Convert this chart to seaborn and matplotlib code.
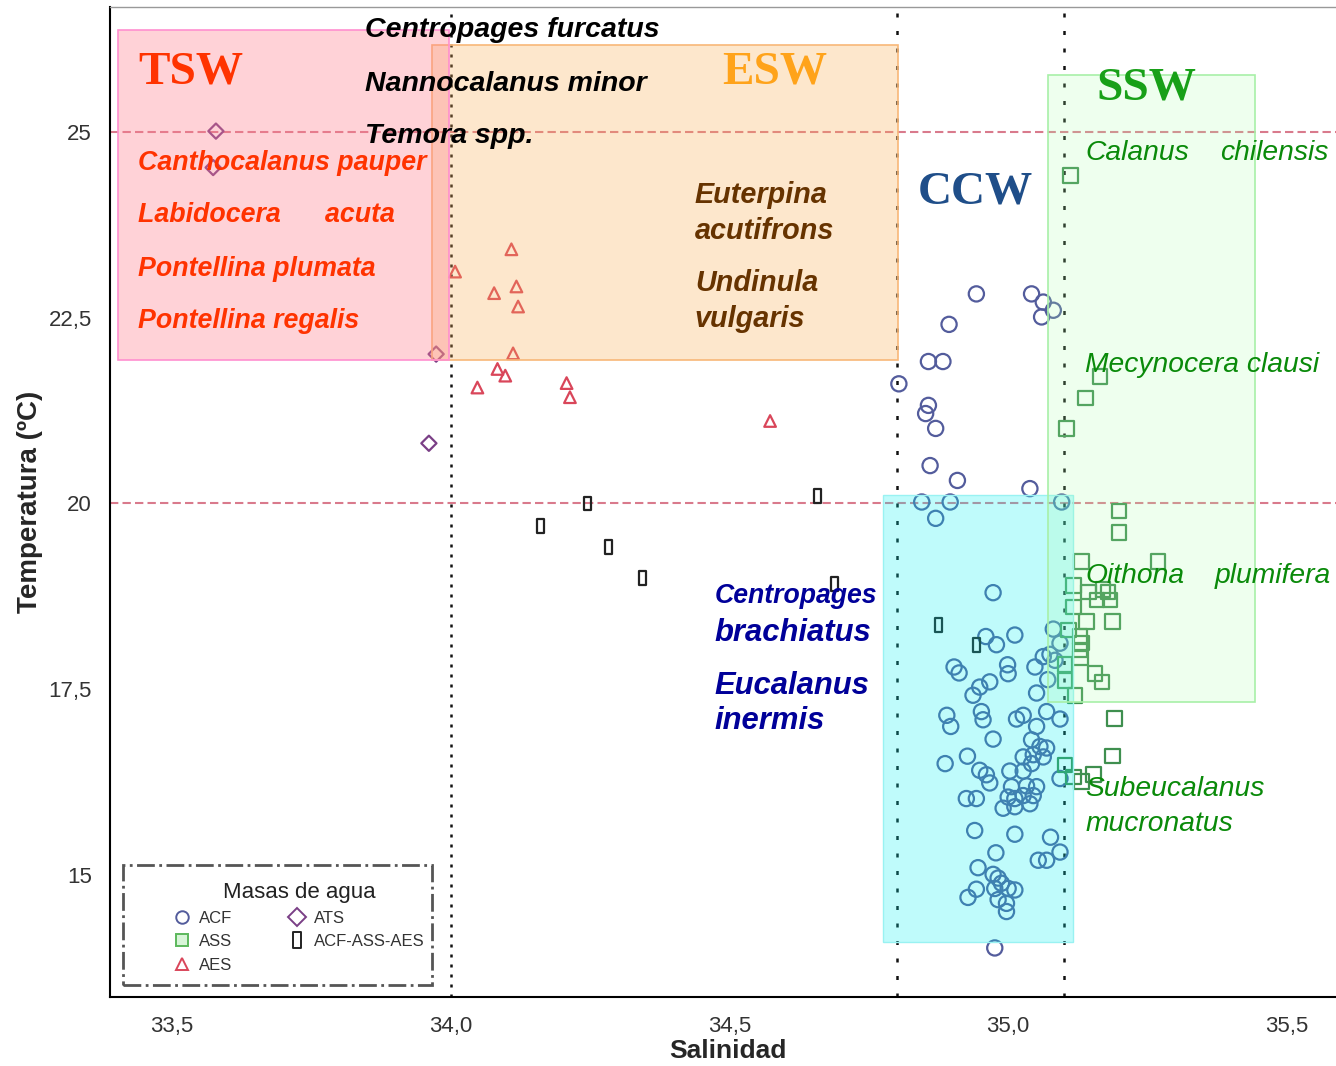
import numpy as np
import pandas as pd
import matplotlib
matplotlib.use("Agg")
import matplotlib.pyplot as plt
import seaborn as sns
from matplotlib.path import Path
from matplotlib.patches import Rectangle
from matplotlib.lines import Line2D
from matplotlib.markers import MarkerStyle

# ---------------- data ----------------
acf_sal = [34.943, 35.042, 35.063, 35.081, 35.060, 34.894, 34.857, 34.883, 34.804, 34.857,
           34.852, 34.870, 34.860, 34.909, 35.039, 34.845, 34.896, 35.096, 34.870, 34.973,
           35.081, 35.012, 34.960, 34.979, 35.093, 34.903, 34.912, 34.999, 35.000, 35.048,
           35.063, 34.967, 34.949, 34.937, 35.051, 34.890, 34.897, 34.952, 34.955, 35.015,
           35.027, 35.069, 35.093, 35.051, 34.973, 35.042, 35.057, 35.069, 35.027, 35.045,
           35.063, 35.042, 34.887, 34.927, 34.949, 34.961, 34.967, 35.003, 35.027, 35.093,
           35.006, 35.033, 35.051, 35.000, 35.012, 35.027, 35.045, 34.925, 34.943, 34.991,
           35.012, 35.039, 34.940, 35.012, 35.076, 34.978, 35.054, 35.069, 35.093, 34.946,
           34.973, 34.982, 34.988, 35.000, 35.012, 34.976, 34.943, 34.928, 34.982, 34.997,
           34.997, 34.976, 35.075, 35.071, 35.084]
acf_temp = [22.82, 22.82, 22.71, 22.60, 22.51, 22.41, 21.91, 21.91, 21.61, 21.32,
            21.21, 21.01, 20.51, 20.31, 20.20, 20.02, 20.02, 20.02, 19.80, 18.80,
            18.31, 18.23, 18.21, 18.10, 18.12, 17.80, 17.72, 17.83, 17.71, 17.80,
            17.94, 17.60, 17.53, 17.42, 17.45, 17.15, 17.00, 17.20, 17.09, 17.10,
            17.15, 17.20, 17.10, 17.00, 16.83, 16.82, 16.73, 16.71, 16.59, 16.62,
            16.59, 16.50, 16.50, 16.60, 16.41, 16.35, 16.24, 16.40, 16.40, 16.30,
            16.19, 16.20, 16.19, 16.05, 16.03, 16.07, 16.07, 16.03, 16.03, 15.90,
            15.92, 15.96, 15.60, 15.55, 15.51, 15.30, 15.20, 15.20, 15.31, 15.10,
            15.01, 14.96, 14.89, 14.82, 14.80, 14.82, 14.81, 14.70, 14.67, 14.62,
            14.51, 14.02, 17.97, 17.63, 17.89]

ass_sal = [35.112, 35.165, 35.139, 35.105, 35.199, 35.199, 35.132, 35.269, 35.117, 35.144,
           35.170, 35.179, 35.159, 35.183, 35.117, 35.141, 35.187, 35.108, 35.129, 35.132,
           35.129, 35.130, 35.102, 35.156, 35.168, 35.102, 35.120, 35.191, 35.187, 35.102,
           35.117, 35.153, 35.132]
ass_temp = [24.41, 21.71, 21.42, 21.01, 19.90, 19.61, 19.22, 19.22, 18.90, 18.81,
            18.84, 18.81, 18.70, 18.70, 18.61, 18.41, 18.41, 18.30, 18.21, 18.12,
            18.03, 17.92, 17.83, 17.71, 17.60, 17.62, 17.42, 17.11, 16.60, 16.48,
            16.32, 16.35, 16.26]

aes_sal = [34.109, 34.008, 34.078, 34.118, 34.121, 34.112, 34.084, 34.098, 34.048, 34.208,
           34.214, 34.573]
aes_temp = [23.42, 23.12, 22.83, 22.92, 22.65, 22.02, 21.81, 21.72, 21.56, 21.62,
            21.43, 21.11]

ats_sal = [33.579, 33.574, 33.974, 33.961]
ats_temp = [25.01, 24.52, 22.01, 20.81]

mix_sal = [34.246, 34.161, 34.284, 34.344, 34.658, 34.688, 34.875, 34.943]
mix_temp = [20.00, 19.70, 19.41, 19.00, 20.10, 18.92, 18.36, 18.10]

groups = ["ACF", "ASS", "AES", "ATS", "ACF-ASS-AES"]
x_ticks = [33.5, 34.0, 34.5, 35.0, 35.5]
x_tick_labels = ["33,5", "34,0", "34,5", "35,0", "35,5"]
y_ticks = [15, 17.5, 20, 22.5, 25]
y_tick_labels = ["15", "17,5", "20", "22,5", "25"]

df = pd.concat([
    pd.DataFrame({"Salinidad": acf_sal, "Temperatura": acf_temp, "Masa": "ACF"}),
    pd.DataFrame({"Salinidad": ass_sal, "Temperatura": ass_temp, "Masa": "ASS"}),
    pd.DataFrame({"Salinidad": aes_sal, "Temperatura": aes_temp, "Masa": "AES"}),
    pd.DataFrame({"Salinidad": ats_sal, "Temperatura": ats_temp, "Masa": "ATS"}),
    pd.DataFrame({"Salinidad": mix_sal, "Temperatura": mix_temp, "Masa": "ACF-ASS-AES"}),
], ignore_index=True)

# ---------------- style ----------------
sns.set_style("white")
plt.rcParams["font.family"] = ["Liberation Sans", "DejaVu Sans"]

bar_marker = MarkerStyle(Path([(-0.25, -0.5), (0.25, -0.5), (0.25, 0.5), (-0.25, 0.5), (-0.25, -0.5)],
                              [Path.MOVETO, Path.LINETO, Path.LINETO, Path.LINETO, Path.CLOSEPOLY]))
styles = {
    "ACF": dict(marker="o", s=120, color="#535c9c"),
    "ASS": dict(marker="s", s=110, color="#3f8f4f"),
    "AES": dict(marker="^", s=70, color="#d9465a"),
    "ATS": dict(marker="D", s=60, color="#7a3f86"),
    "ACF-ASS-AES": dict(marker=bar_marker, s=100, color="#222222"),
}

fig = plt.figure(figsize=(13.36, 10.66), dpi=100)
ax = fig.add_axes([110 / 1336, 69 / 1066, 1236 / 1336, 990 / 1066])

for g in groups:
    st = styles[g]
    sns.scatterplot(data=df[df["Masa"] == g], x="Salinidad", y="Temperatura",
                    marker=st["marker"], s=st["s"], facecolors="none",
                    edgecolor=st["color"], linewidth=1.6, ax=ax, zorder=3, legend=False)

ax.set_xlim(33.389, 35.606)
ax.set_ylim(13.36, 26.68)

# reference lines
for yv in (25, 20):
    ax.axhline(yv, color="#d97a8c", lw=1.5, ls=(0, (4, 2)), zorder=2)
ax.axvline(34.0, color="#111111", lw=1.8, ls=(0, (1.2, 2.8)), zorder=2)
for xv in (34.8, 35.1):
    ax.axvline(xv, color="#111111", lw=1.8, ls=(0, (1.6, 5.4)), zorder=2)

# water mass boxes
ax.add_patch(Rectangle((34.775, 14.10), 0.341, 6.01, facecolor=(0.0, 0.94, 0.94, 0.25),
                       edgecolor=(0.6, 0.95, 0.95, 1), lw=1, zorder=4))
ax.add_patch(Rectangle((35.071, 17.33), 0.372, 8.44, facecolor=(0.67, 1.0, 0.67, 0.2),
                       edgecolor="#a8f0a8", lw=1.2, zorder=4))
ax.add_patch(Rectangle((33.966, 21.93), 0.836, 4.24, facecolor=(0.98, 0.69, 0.35, 0.3),
                       edgecolor="#f8b878", lw=1.2, zorder=4))
ax.add_patch(Rectangle((33.403, 21.93), 0.594, 4.44, facecolor=(1.0, 0.5, 0.56, 0.35),
                       edgecolor="#ff8fcf", lw=1.2, zorder=4))

# big water-mass labels
big = dict(family="Liberation Serif", fontweight="bold", fontsize=34, va="center", ha="left", zorder=6)
ax.text(33.439, 25.80, "TSW", color="#ff3300", **big)
ax.text(34.487, 25.80, "ESW", color="#ffa31a", **big)
ax.text(34.838, 24.19, "CCW", color="#1f4e89", **big)
ax.text(35.159, 25.59, "SSW", color="#18a018", **big)

# species labels
bi = dict(fontweight="bold", fontstyle="italic", va="center", ha="left", zorder=6)
for txt, yv in [("Centropages furcatus", 26.37), ("Nannocalanus minor", 25.65), ("Temora spp.", 24.95)]:
    ax.text(33.846, yv, txt, color="black", fontsize=20.5, **bi)
for txt, yv in [("Canthocalanus pauper", 24.58), ("Labidocera      acuta", 23.88),
                ("Pontellina plumata", 23.16), ("Pontellina regalis", 22.45)]:
    ax.text(33.439, yv, txt, color="#ff3300", fontsize=19.3, **bi)
for txt, yv in [("Euterpina", 24.15), ("acutifrons", 23.67), ("Undinula", 22.96), ("vulgaris", 22.48)]:
    ax.text(34.438, yv, txt, color="#663300", fontsize=20.7, **bi)
ax.text(34.474, 18.75, "Centropages", color="#000099", fontsize=19.2, **bi)
for txt, yv in [("brachiatus", 18.26), ("Eucalanus", 17.54), ("inermis", 17.07)]:
    ax.text(34.474, yv, txt, color="#000099", fontsize=22.3, **bi)
gi = dict(fontstyle="italic", va="center", ha="left", zorder=6, color="#0a8a0a", fontsize=20.3)
for txt, xv, yv in [("Calanus", 35.138, 24.72), ("chilensis", 35.381, 24.72),
                    ("Mecynocera clausi", 35.138, 21.87),
                    ("Oithona", 35.138, 19.02), ("plumifera", 35.370, 19.02),
                    ("Subeucalanus", 35.138, 16.16), ("mucronatus", 35.138, 15.69)]:
    ax.text(xv, yv, txt, **gi)

# axes styling
ax.set_xticks(x_ticks)
ax.set_xticklabels(x_tick_labels)
ax.set_yticks(y_ticks)
ax.set_yticklabels(y_tick_labels)
ax.tick_params(axis="both", direction="out", length=5, width=1.3, color="#333333",
               labelsize=16, labelcolor="#333333", pad=8)
ax.tick_params(axis="x", pad=9)
for side in ("left", "bottom"):
    ax.spines[side].set_color("black")
    ax.spines[side].set_linewidth(1.5)
for side in ("top", "right"):
    ax.spines[side].set_color("#999999")
    ax.spines[side].set_linewidth(1.0)
ax.set_xlabel("Salinidad", fontsize=19, fontweight="bold", labelpad=1)
ax.set_ylabel("Temperatura (ºC)", fontsize=20, fontweight="bold", labelpad=4)

# legend
handles = [Line2D([], [], ls="", marker=styles[g]["marker"], mfc="none", mec=styles[g]["color"],
                  mew=1.4, ms=9 if g != "ACF-ASS-AES" else 11, label=g) for g in groups]
handles[1].set_markerfacecolor("#d8f5d8")
handles[1].set_markeredgecolor("#5cb85c")
trans = ax.transAxes
frame = Rectangle((13 / 1236, 12 / 990), 309 / 1236, 120 / 990, transform=trans, fill=False,
                  edgecolor="#555555", lw=2, ls="-.", zorder=7)
ax.add_patch(frame)
leg = ax.legend(handles=handles, title="Masas de agua", ncol=2, frameon=False,
                loc="upper left", bbox_to_anchor=(52 / 1236, 1 - (870 - 7) / 990),
                fontsize=12, title_fontsize=16, labelspacing=0.5, columnspacing=3.4,
                handlelength=1.0, handletextpad=0.5, borderpad=0.2)
leg.set_zorder(8)
for t in leg.get_texts():
    t.set_color("#333333")
leg.get_title().set_color("#222222")

fig.savefig("out.png", dpi=100)
